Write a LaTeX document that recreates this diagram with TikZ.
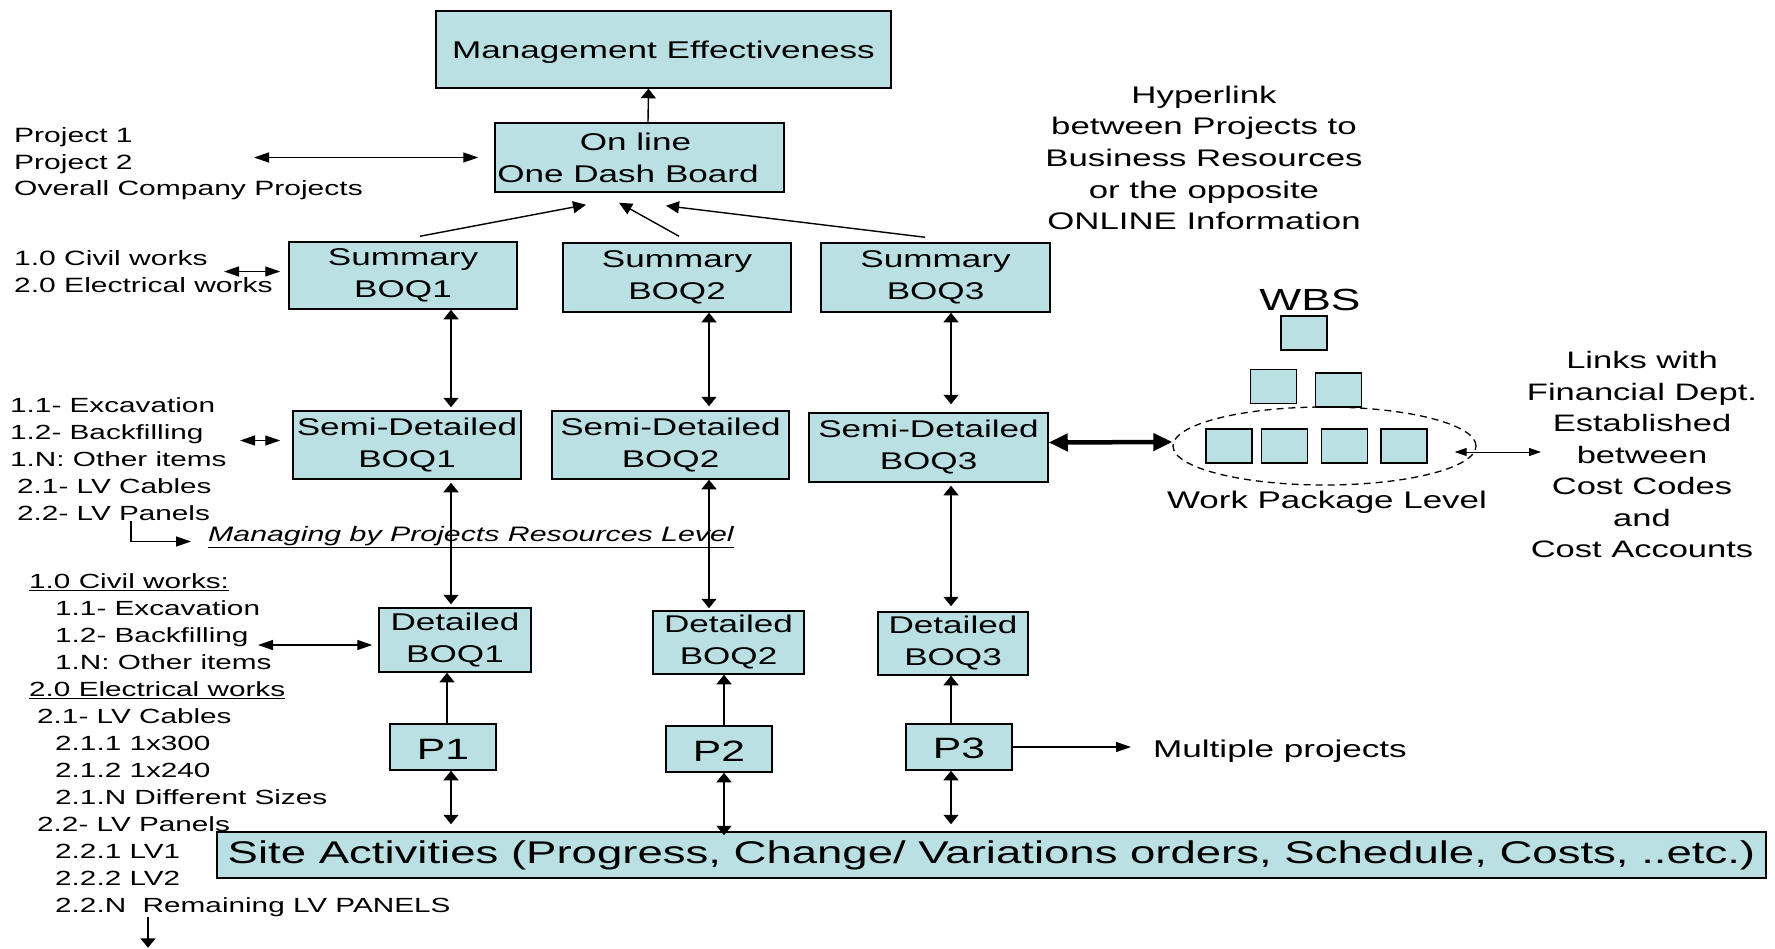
\documentclass[tikz,border=0pt]{standalone}
\usepackage{fontspec}
\setmainfont{Liberation Sans}[FakeStretch=1.45]
\usetikzlibrary{shapes, arrows.meta, calc}
\definecolor{boqfill}{RGB}{187,224,227}
\tikzset{
  vtip/.tip={Triangle[length=9.5pt,width=15pt]},
  htip/.tip={Triangle[length=15pt,width=10pt]},
  dtip/.tip={Triangle[length=13pt,width=12pt]},
  bigtip/.tip={Triangle[length=19pt,width=17pt]},
  smalltip/.tip={Triangle[length=12pt,width=8pt]}
}
\tikzstyle{boqbox} = [rectangle, draw=black, line width=1.5pt, fill=boqfill, inner sep=0pt, align=center, font=\fontsize{24.2}{32}\selectfont, execute at begin node={\rule{0pt}{24pt}}]
\tikzstyle{wbsbox} = [rectangle, draw=black, line width=1.5pt, fill=boqfill, minimum width=46pt, minimum height=34pt, inner sep=0pt]
\tikzstyle{note} = [inner sep=0pt, align=left, font=\fontsize{20.5}{27}\selectfont]
\tikzstyle{label} = [inner sep=0pt, align=center]
\tikzstyle{varrow} = [line width=1.4pt, -vtip]
\tikzstyle{vdarrow} = [line width=1.4pt, vtip-vtip]
\tikzstyle{harrow} = [line width=1.4pt, -htip]
\tikzstyle{hdarrow} = [line width=1.4pt, htip-htip]
\tikzstyle{slantarrow} = [line width=1.4pt, -dtip]
\tikzstyle{bigarrow} = [line width=4.5pt, bigtip-bigtip]
\tikzstyle{thinarrow} = [line width=1pt, smalltip-smalltip]

\begin{document}
\begin{tikzpicture}[x=1pt, y=-1pt]
        \useasboundingbox (0,0) rectangle (1775,948);

        % Boxes
        \node (mgmt) [boqbox, minimum width=455pt, minimum height=77pt] at (663.5,49.5) {Management Effectiveness};
        \node (online) [boqbox, minimum width=289pt, minimum height=69pt] at (639.5,157.5) {On line\hspace*{8pt}\\One Dash Board\hspace*{23pt}};
        \node (sum1) [boqbox, minimum width=228pt, minimum height=67pt] at (403,275.5) {Summary\\BOQ1};
        \node (sum2) [boqbox, minimum width=228pt, minimum height=69pt] at (677,277.5) {Summary\\BOQ2};
        \node (sum3) [boqbox, minimum width=229pt, minimum height=69pt] at (935.5,277.5) {Summary\\BOQ3};
        \node (semi1) [boqbox, minimum width=228pt, minimum height=68pt] at (407,445) {Semi-Detailed\\BOQ1};
        \node (semi2) [boqbox, minimum width=237pt, minimum height=68pt] at (670.5,445) {Semi-Detailed\\BOQ2};
        \node (semi3) [boqbox, minimum width=239pt, minimum height=69pt] at (928.5,447.5) {Semi-Detailed\\BOQ3};
        \node (det1) [boqbox, minimum width=152pt, minimum height=64pt] at (455,640) {Detailed\\BOQ1};
        \node (det2) [boqbox, minimum width=151pt, minimum height=63pt] at (728.5,642.5) {Detailed\\BOQ2};
        \node (det3) [boqbox, minimum width=150pt, minimum height=63pt] at (953,643.5) {Detailed\\BOQ3};
        \node (p1) [boqbox, minimum width=106pt, minimum height=46pt, font=\fontsize{29.4}{32}\selectfont] at (443,747) {P1};
        \node (p2) [boqbox, minimum width=106pt, minimum height=46pt, font=\fontsize{29.4}{32}\selectfont] at (719,749) {P2};
        \node (p3) [boqbox, minimum width=106pt, minimum height=46pt, font=\fontsize{29.4}{32}\selectfont] at (959,747) {P3};
        \node (site) [boqbox, minimum width=1549pt, minimum height=46pt, font=\fontsize{31.4}{34}\selectfont] at (991.5,855) {Site Activities (Progress, Change/ Variations orders, Schedule, Costs, ..etc.)};

        % Side texts
        \node (proj) [note, font=\fontsize{20.7}{26.5}\selectfont, anchor=west] at (14,164) {Project 1\\Project 2\\Overall Company Projects};
        \node (works) [note, font=\fontsize{20.7}{27}\selectfont, anchor=west] at (14,271.5) {1.0 Civil works\\2.0 Electrical works};
        \node (semilist) [note, anchor=west] at (10,459.5) {1.1- Excavation\\1.2- Backfilling\\1.N: Other items\\\hspace*{7pt}2.1- LV Cables\\\hspace*{7pt}2.2- LV Panels};
        \node (managing) [inner sep=0pt, anchor=base west, font=\fontsize{20.9}{26}\selectfont\itshape] at (208,541.5) {\underline{Managing by Projects Resources Level}};
        \node (lowlist) [note, anchor=west] at (29,745) {\underline{1.0 Civil works:}\\
            \hspace*{26pt}1.1- Excavation\\
            \hspace*{26pt}1.2- Backfilling\\
            \hspace*{26pt}1.N: Other items\\
            \underline{2.0 Electrical works}\\
            \hspace*{8pt}2.1- LV Cables\\
            \hspace*{26pt}2.1.1 1x300\\
            \hspace*{26pt}2.1.2 1x240\\
            \hspace*{26pt}2.1.N Different Sizes\\
            \hspace*{8pt}2.2- LV Panels\\
            \hspace*{26pt}2.2.1 LV1\\
            \hspace*{26pt}2.2.2 LV2\\
            \hspace*{26pt}2.2.N~ Remaining LV PANELS};
        \node (hyper) [label, font=\fontsize{24}{31.7}\selectfont] at (1204,158) {Hyperlink\\between Projects to\\Business Resources\\or the opposite\\ONLINE Information};
        \node (multi) [inner sep=0pt, anchor=base west, font=\fontsize{24.2}{30}\selectfont] at (1153,757) {Multiple projects};

        % WBS
        \node (wbs) [inner sep=0pt, anchor=base, font=\fontsize{30.6}{34}\selectfont] at (1310,310) {WBS};
        \node (wpkg) [ellipse, draw=black, dash pattern=on 7pt off 5pt, line width=1.3pt, minimum width=303pt, minimum height=78pt, inner sep=0pt] at (1324.5,446) {};
        \node (top) [wbsbox] at (1304,333) {};
        \node (mid1) [wbsbox] at (1273.5,386.5) {};
        \node (mid2) [wbsbox] at (1338.5,390) {};
        \node (wp1) [wbsbox] at (1229,446) {};
        \node (wp2) [wbsbox] at (1284.5,446) {};
        \node (wp3) [wbsbox] at (1344.5,446) {};
        \node (wp4) [wbsbox] at (1404,446) {};
        \node (wpl) [inner sep=0pt, anchor=base, font=\fontsize{24.1}{30}\selectfont] at (1327,508.6) {Work Package Level};
        \node (links) [label, font=\fontsize{23.8}{31.5}\selectfont] at (1642,454.5) {Links with\\Financial Dept.\\Established\\between\\Cost Codes\\and\\Cost Accounts};

        % Arrows
        \draw [varrow] ([xshift=8.5pt]online.north) -- ([xshift=-15pt]mgmt.south);
        \draw [slantarrow] ([xshift=17pt,yshift=5pt]sum1.north) -- ([xshift=-53.5pt,yshift=-12pt]online.south);
        \draw [slantarrow] ([xshift=2pt,yshift=6pt]sum2.north) -- ([xshift=-20.5pt,yshift=-10pt]online.south);
        \draw [slantarrow] ([xshift=-10.5pt,yshift=5pt]sum3.north) -- ([xshift=26.5pt,yshift=-13pt]online.south);

        \draw [vdarrow] ([xshift=48pt]sum1.south) -- ([xshift=44pt,yshift=3pt]semi1.north);
        \draw [vdarrow] ([xshift=32pt]sum2.south) -- ([xshift=38.5pt,yshift=4pt]semi2.north);
        \draw [vdarrow] ([xshift=15.5pt]sum3.south) -- ([xshift=22.5pt,yshift=8pt]semi3.north);
        \draw [vdarrow] ([xshift=44pt,yshift=-3pt]semi1.south) -- ([xshift=-4pt,yshift=3pt]det1.north);
        \draw [vdarrow] ([xshift=38.5pt]semi2.south) -- ([xshift=-19.5pt,yshift=2pt]det2.north);
        \draw [vdarrow] ([xshift=22.5pt,yshift=-3pt]semi3.south) -- ([xshift=-2pt,yshift=5pt]det3.north);

        \draw [varrow] ([xshift=4pt]p1.north) -- ([xshift=-8pt]det1.south);
        \draw [varrow] ([xshift=5pt]p2.north) -- ([xshift=-4.5pt]det2.south);
        \draw [varrow] ([xshift=-8pt]p3.north) -- ([xshift=-2pt]det3.south);
        \draw [vdarrow, shorten >=7pt] ([xshift=8pt]p1.south) -- ($(p1.south |- site.north)+(8pt,0pt)$);
        \draw [vdarrow, shorten >=-4pt] ([xshift=5pt]p2.south) -- ($(p2.south |- site.north)+(5pt,0pt)$);
        \draw [vdarrow, shorten >=7pt] ([xshift=-8pt]p3.south) -- ($(p3.south |- site.north)+(-8pt,0pt)$);
        \draw [harrow, shorten >=22pt] (p3.east) -- (p3.east -| multi.west);

        \draw [hdarrow] ($(proj.west |- online.west)+(240pt,0pt)$) -- ([xshift=-16pt]online.west);
        \draw [hdarrow] ($(works.west)+(210pt,0pt)$) -- ($(works.west -| sum1.west)+(-8pt,0pt)$);
        \draw [hdarrow] ($(semilist.west)+(230pt,19pt)$) -- ($(semilist.west -| semi1.west)+(-12pt,19pt)$);
        \draw [harrow, shorten >=17pt] ([xshift=121pt]semilist.south west) |- (managing.base west);
        \draw [hdarrow] ($(lowlist.west)+(229pt,100pt)$) -- ($(lowlist.west -| det1.west)+(-6pt,100pt)$);
        \coordinate (more) at ($(lowlist.south west)+(119pt,-31pt)$);
        \draw [varrow] ([xshift=119pt]lowlist.south west) -- (more);

        \draw [bigarrow] ([yshift=5pt]semi3.east) -- ([yshift=4pt]wpkg.west);
        \draw [thinarrow] ([xshift=-22pt,yshift=-6pt]wpkg.east) -- ([xshift=-101pt,yshift=2.5pt]links.center);

    \end{tikzpicture}
\end{document}
